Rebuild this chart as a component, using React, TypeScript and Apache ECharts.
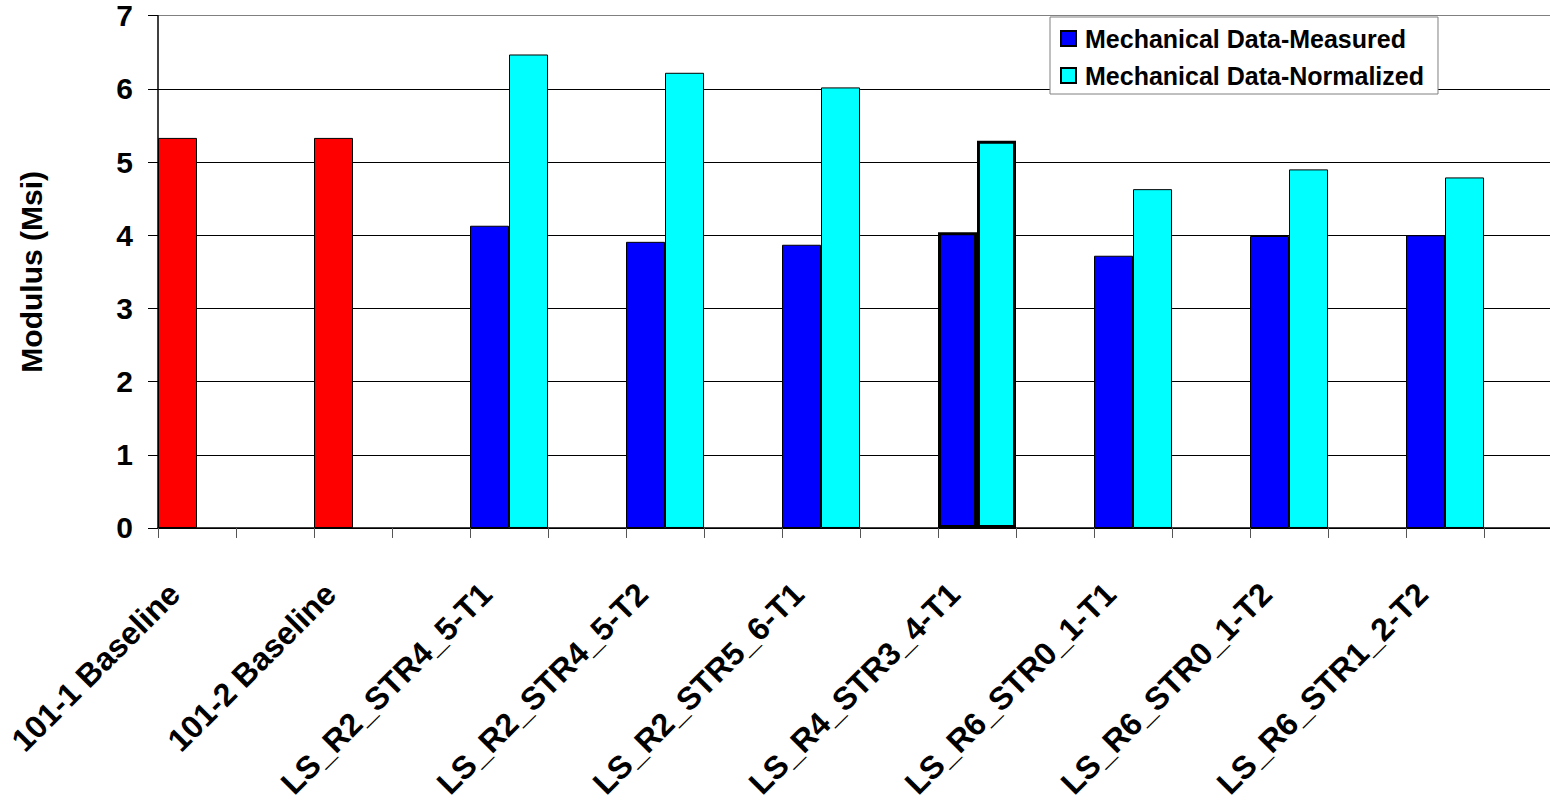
import React, { useEffect, useRef } from "react";
import * as echarts from "echarts";

const categories = [
  "101-1 Baseline",
  "101-2 Baseline",
  "LS_R2_STR4_5-T1",
  "LS_R2_STR4_5-T2",
  "LS_R2_STR5_6-T1",
  "LS_R4_STR3_4-T1",
  "LS_R6_STR0_1-T1",
  "LS_R6_STR0_1-T2",
  "LS_R6_STR1_2-T2",
];
const measured = [5.33, 5.33, 4.13, 3.91, 3.87, 4.04, 3.72, 3.99, 4.0];
const normalized: (number | null)[] = [null, null, 6.47, 6.22, 6.02, 5.29, 4.63, 4.9, 4.79];
const baselineFlags = [true, true, false, false, false, false, false, false, false];
const highlightFlags = [false, false, false, false, false, true, false, false, false];

const FONT = 'Arial, "Liberation Sans", sans-serif';

export default function App() {
  const ref = useRef<HTMLDivElement>(null);
  useEffect(() => {
    if (!ref.current) return;
    const chart = echarts.init(ref.current, undefined, { renderer: "svg" });
    // each category occupies two slots; second slot is empty
    const slots: string[] = [];
    const mData: any[] = [];
    const nData: any[] = [];
    categories.forEach((c, i) => {
      slots.push(c, "");
      const hl = highlightFlags[i];
      mData.push({
        value: measured[i],
        itemStyle: {
          color: baselineFlags[i] ? "#ff0000" : "#0000ff",
          borderColor: "#000",
          borderWidth: hl ? 3 : 1,
        },
      });
      mData.push("-");
      nData.push(
        normalized[i] == null
          ? "-"
          : {
              value: normalized[i],
              itemStyle: { color: "#00ffff", borderColor: "#000", borderWidth: hl ? 3 : 1 },
            }
      );
      nData.push("-");
    });
    chart.setOption({
      animation: false,
      backgroundColor: "#fff",
      textStyle: { fontFamily: FONT },
      grid: { left: 158, top: 15.7, right: 1, bottom: 271, containLabel: false },
      legend: {
        orient: "vertical",
        left: 1050,
        top: 17,
        padding: [9, 14, 6, 10],
        itemWidth: 15,
        itemHeight: 15,
        itemGap: 12,
        backgroundColor: "#fff",
        borderColor: "#808080",
        borderWidth: 1,
        icon: "rect",
        textStyle: { fontFamily: FONT, fontWeight: "bold", fontSize: 25, color: "#000", padding: [0, 0, 0, 4] },
        data: ["Mechanical Data-Measured", "Mechanical Data-Normalized"],
      },
      xAxis: {
        type: "category",
        data: slots,
        boundaryGap: true,
        axisLine: { lineStyle: { color: "#000", width: 1.5 } },
        axisTick: { show: true, interval: 0, length: 10, lineStyle: { color: "#555" } },
        axisLabel: {
          interval: 0,
          rotate: 45,
          margin: 38,
          padding: [0, 32, 0, 0],
          fontFamily: FONT,
          fontWeight: "bold",
          fontSize: 32,
          color: "#000",
        },
        splitLine: { show: false },
      },
      yAxis: {
        type: "value",
        min: 0,
        max: 7,
        interval: 1,
        name: "Modulus (Msi)",
        nameLocation: "middle",
        nameRotate: 90,
        nameGap: 112,
        nameTextStyle: { fontFamily: FONT, fontWeight: "bold", fontSize: 30, color: "#000" },
        axisLine: { show: true, lineStyle: { color: "#000", width: 1.5 } },
        axisTick: { show: true, length: 10, lineStyle: { color: "#000" } },
        axisLabel: {
          margin: 25,
          fontFamily: FONT,
          fontWeight: "bold",
          fontSize: 30,
          color: "#000",
        },
        splitLine: {
          show: true,
          lineStyle: {
            color: ["#000", "#000", "#000", "#000", "#000", "#000", "#000", "#808080"],
            width: 1,
          },
        },
      },
      series: [
        {
          name: "Mechanical Data-Measured",
          type: "bar",
          barGap: "0%",
          barCategoryGap: "0%",
          itemStyle: { color: "#0000ff", borderColor: "#000", borderWidth: 1 },
          data: mData,
        },
        {
          name: "Mechanical Data-Normalized",
          type: "bar",
          barGap: "0%",
          barCategoryGap: "0%",
          itemStyle: { color: "#00ffff", borderColor: "#000", borderWidth: 1 },
          data: nData,
        },
      ],
    });
    return () => chart.dispose();
  }, []);
  return (
    <div
      ref={ref}
      style={{ position: "fixed", left: 0, top: 0, width: 1563, height: 802, background: "#fff" }}
    />
  );
}
